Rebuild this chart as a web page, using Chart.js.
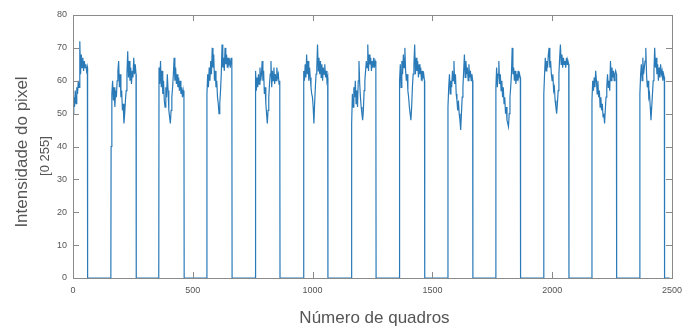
<!DOCTYPE html>
<html>
<head>
<meta charset="utf-8">
<script src="https://cdn.jsdelivr.net/npm/chart.js@4.4.1/dist/chart.umd.min.js"></script>
<style>
  html, body { margin: 0; padding: 0; background: #fff; }
  #wrap { width: 689px; height: 327px; }
</style>
</head>
<body>
<div id="wrap"><canvas id="chart"></canvas></div>
<script>
// frame where each bright pulse starts / ends
const pulseStart = [0, 159, 359, 559, 762, 963, 1163, 1363, 1565, 1765, 1965, 2166, 2366];
const pulseEnd   = [60, 263, 463, 663, 863, 1063, 1264, 1467, 1668, 1867, 2069, 2268, 2468];
const lastFrame = 2490;

// intensity samples, one list per pulse
const pulse1  = [50,55,52,57,53,58,56,60,58,72,62,68,64,67,63,66,64,65,63,64];
const pulse2  = [40,56,60,54,58,52,57,55,60,63,66,58,62,55,57,51,53,47,50,54,57,62,69,61,66,60,64,59,63,61,67,62,65,62];
const pulse3  = [64,59,66,58,63,56,60,54,52,58,55,62,57,51,49,47,51,55,58,62,67,60,64,59,62,58,61,57,60,56,58,55,57,55];
const pulse4  = [56,62,58,64,60,66,62,70,64,68,60,63,58,60,55,53,50,53,57,62,71,64,67,63,70,65,68,64,67,65,66,64,67,65];
const pulse5  = [63,57,61,58,62,59,64,60,62,66,60,63,56,58,53,50,47,51,55,59,62,66,58,63,60,64,59,62,60,64,61,62,59,60];
const pulse6  = [63,60,65,61,68,62,66,60,64,61,58,56,55,52,47,53,58,62,64,71,63,67,62,66,61,65,60,64,62,65,61,63,60,61];
const pulse7  = [47,56,52,58,55,60,53,57,52,60,66,59,55,52,50,48,51,57,60,63,66,64,71,63,68,65,67,63,66,64,67,64,66,65];
const pulse8  = [60,65,58,66,62,68,64,70,63,60,62,57,55,52,50,48,52,58,62,65,71,62,67,63,66,61,65,62,64,60,63,61,62,60];
const pulse9  = [52,58,62,56,60,58,63,60,66,59,62,56,54,51,54,50,48,45,50,55,58,63,68,61,66,62,64,60,65,61,63,60,62,60];
const pulse10 = [58,64,58,62,66,59,62,57,60,55,58,53,55,50,52,48,47,46,50,55,58,62,70,62,64,60,63,59,62,60,63,61,62,61];
const pulse11 = [56,62,67,63,66,64,68,70,64,66,62,60,62,57,58,54,52,50,53,57,62,67,71,65,68,64,67,65,66,64,67,65,66,65];
const pulse12 = [54,60,57,61,58,63,60,56,60,55,57,52,55,51,53,49,50,47,51,55,58,62,58,60,57,66,60,64,61,63,60,62,63,62];
const pulse13 = [56,62,65,60,67,62,64,66,70,62,58,60,55,56,52,48,52,56,60,63,70,64,67,62,65,60,64,61,65,62,63,60,62,61];
const pulses = [pulse1, pulse2, pulse3, pulse4, pulse5, pulse6, pulse7,
                pulse8, pulse9, pulse10, pulse11, pulse12, pulse13];

const xTicks = [0, 500, 1000, 1500, 2000, 2500];
const yTicks = [0, 10, 20, 30, 40, 50, 60, 70, 80];
const xLabel = 'Número de quadros';
const yLabel = ['Intensidade do pixel', '[0 255]'];

// build the trace: pulse samples spread over their frames, zero in between
const points = [];
pulses.forEach((vals, i) => {
  const s = pulseStart[i], e = pulseEnd[i];
  if (s > 0) points.push({ x: s - 1, y: 0 });
  vals.forEach((v, k) => {
    points.push({ x: s + (e - s) * k / (vals.length - 1), y: v });
  });
  points.push({ x: e + 1, y: 0 });
});
points.push({ x: lastFrame, y: 0 });

const axisColor = '#8a8a8a';
const textColor = '#555';

// MATLAB-like box with inward ticks, plus the axis labels
const boxPlugin = {
  id: 'box',
  afterDraw(chart) {
    const { ctx, chartArea: a, scales } = chart;
    ctx.save();
    ctx.strokeStyle = axisColor;
    ctx.lineWidth = 1;
    ctx.strokeRect(a.left + 0.5, a.top + 0.5, a.right - a.left, a.bottom - a.top);
    ctx.beginPath();
    xTicks.forEach(t => {
      const px = Math.round(scales.x.getPixelForValue(t)) + 0.5;
      ctx.moveTo(px, a.bottom); ctx.lineTo(px, a.bottom - 6);
      ctx.moveTo(px, a.top); ctx.lineTo(px, a.top + 6);
    });
    yTicks.forEach(t => {
      const py = Math.round(scales.y.getPixelForValue(t)) + 0.5;
      ctx.moveTo(a.left, py); ctx.lineTo(a.left + 6, py);
      ctx.moveTo(a.right, py); ctx.lineTo(a.right - 6, py);
    });
    ctx.stroke();

    ctx.fillStyle = textColor;
    ctx.textAlign = 'center';
    ctx.textBaseline = 'middle';
    ctx.font = '17px "Liberation Sans"';
    ctx.fillText(xLabel, (a.left + a.right) / 2 + 2, 318);

    ctx.translate(22, 152);
    ctx.rotate(-Math.PI / 2);
    ctx.fillText(yLabel[0], 0, 0);
    ctx.font = '13px "Liberation Sans"';
    ctx.fillText(yLabel[1], -4, 23);
    ctx.restore();
  }
};

new Chart(document.getElementById('chart'), {
  type: 'line',
  data: {
    datasets: [{
      data: points,
      borderColor: '#2a7ab8',
      borderWidth: 1.2,
      pointRadius: 0,
      tension: 0,
      fill: false
    }]
  },
  options: {
    responsive: true,
    maintainAspectRatio: false,
    animation: false,
    layout: { padding: { left: 0, top: 15, right: 11, bottom: 0 } },
    plugins: { legend: { display: false }, tooltip: { enabled: false } },
    scales: {
      x: {
        type: 'linear',
        min: 0, max: 2500,
        afterBuildTicks: s => { s.ticks = xTicks.map(v => ({ value: v })); },
        afterFit: s => { s.height = 49; },
        grid: { display: false, drawTicks: false },
        border: { display: false },
        ticks: {
          padding: 7, color: textColor, maxRotation: 0,
          font: { family: 'Liberation Sans', size: 9 },
          callback: v => String(v)
        },
        title: { display: false }
      },
      y: {
        min: 0, max: 80,
        afterBuildTicks: s => { s.ticks = yTicks.map(v => ({ value: v })); },
        afterFit: s => { s.width = 73; },
        grid: { display: false, drawTicks: false },
        border: { display: false },
        ticks: {
          padding: 6, color: textColor,
          font: { family: 'Liberation Sans', size: 9 },
          callback: v => String(v)
        },
        title: { display: false }
      }
    }
  },
  plugins: [boxPlugin]
});
</script>
</body>
</html>
